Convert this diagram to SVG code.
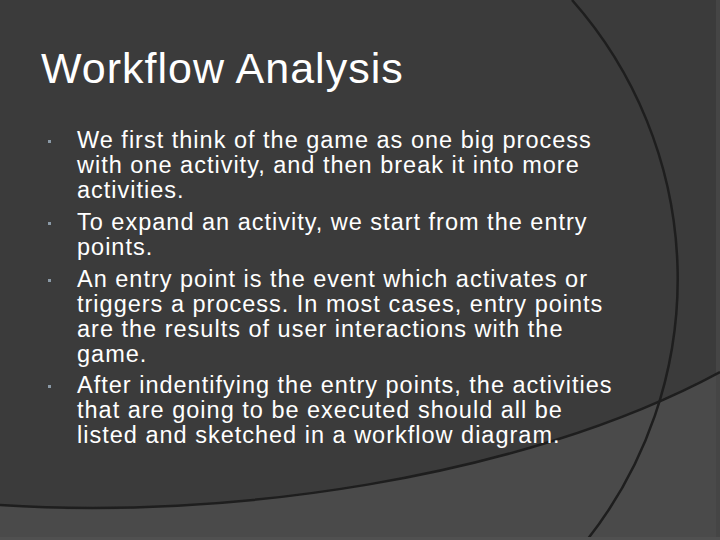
<svg xmlns="http://www.w3.org/2000/svg" width="720" height="540" viewBox="0 0 720 540">
<style>
.t{font-family:"Liberation Sans",Arial,sans-serif;fill:#ffffff}
.b{font-size:23.5px;letter-spacing:1px}
.d{fill:#8a99a6}
</style>
<rect width="720" height="540" fill="#3b3b3b"/>
<path d="M0 505 C220 520 520 480 720 372 L720 540 L0 540 Z" fill="#4a4a4a"/>
<rect x="716" y="0" width="4" height="540" fill="#454545"/>
<path d="M0 505 C220 520 520 480 720 372" fill="none" stroke="#1e1e1e" stroke-width="2.5"/>
<path d="M572 0 A421 421 0 0 1 587 540" fill="none" stroke="#1e1e1e" stroke-width="2.5"/>
<rect x="0" y="537" width="720" height="3" fill="#505050"/>
<text class="t" x="41" y="83" font-size="43" letter-spacing="1">Workflow Analysis</text>
<g class="t b">
<text x="77" y="148">We first think of the game as one big process</text>
<text x="77" y="173">with one activity, and then break it into more</text>
<text x="77" y="198">activities.</text>
<text x="77" y="230">To expand an activity, we start from the entry</text>
<text x="77" y="255">points.</text>
<text x="77" y="287">An entry point is the event which activates or</text>
<text x="77" y="312">triggers a process. In most cases, entry points</text>
<text x="77" y="337">are the results of user interactions with the</text>
<text x="77" y="362">game.</text>
<text x="77" y="393">After indentifying the entry points, the activities</text>
<text x="77" y="418">that are going to be executed should all be</text>
<text x="77" y="443">listed and sketched in a workflow diagram.</text>
</g>
<g class="d">
<rect x="48" y="140" width="3" height="3"/>
<rect x="48" y="222" width="3" height="3"/>
<rect x="48" y="279" width="3" height="3"/>
<rect x="48" y="385" width="3" height="3"/>
</g>
</svg>
